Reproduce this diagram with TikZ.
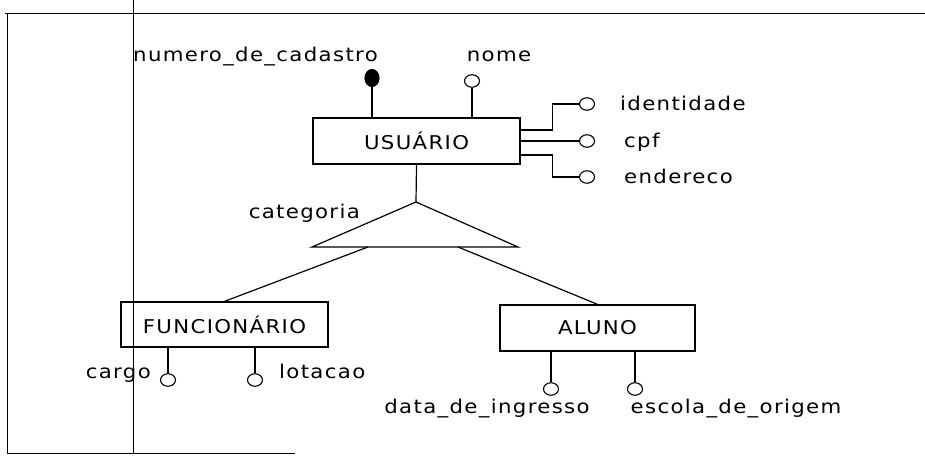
\documentclass[tikz,border=0pt]{standalone}
\usepackage{fontspec}
\setmainfont{DejaVu Sans}[LetterSpace=7,FakeStretch=1.12]
\usetikzlibrary{shapes.geometric}
\begin{document}
\begin{tikzpicture}[x=1pt,y=-1pt,
  frameline/.style={line width=0.9pt},
  ln/.style={line width=1.2pt},
  ent/.style={draw, line width=1.3pt, inner sep=0, font=\fontsize{19}{21}\selectfont},
  attr/.style={draw, ellipse, line width=1.1pt, minimum width=15pt, minimum height=12.5pt, inner sep=0, fill=white},
  keyattr/.style={attr, fill=black, minimum width=14pt, minimum height=17pt},
  lbl/.style={font=\fontsize{19}{21}\selectfont, inner sep=0}
]
\useasboundingbox (0,0) rectangle (925,455);
% frame
\draw[frameline] (5,13) -- (925,13);
\draw[frameline] (7,13) -- (7,453) -- (295,453);
\draw[line width=0.7pt] (133,0) -- (133,453);

% entities
\node[ent, minimum width=207pt, minimum height=46pt] (usuario) at (416.5,141) {USUÁRIO};
\node[ent, minimum width=207pt, minimum height=45pt] (func) at (224.5,324.5) {FUNCIONÁRIO};
\node[ent, minimum width=195pt, minimum height=46pt] (aluno) at (597.5,328) {ALUNO};

% USUARIO attributes
\node[keyattr] (keyC) at (372,78) {};
\node[attr] (nomeC) at (472,81) {};
\node[attr] (idC) at (587,104) {};
\node[attr] (cpfC) at (587,141) {};
\node[attr] (endC) at (587,177) {};
\draw[ln] (keyC.south) -- (keyC.south |- usuario.north);
\draw[ln] (nomeC.south) -- (nomeC.south |- usuario.north);
\draw[ln] ([yshift=11pt]usuario.east) -- ++(32,0) |- (idC.west);
\draw[ln] (usuario.east) -- (cpfC.west);
\draw[ln] ([yshift=-14pt]usuario.east) -- ++(32,0) |- (endC.west);

\node[lbl, anchor=base east] (lkey) at (378,61) {numero\_de\_cadastro};
\node[lbl, anchor=base] (lnome) at (499,61) {nome};
\node[lbl, anchor=base west] (lid) at (620,110) {identidade};
\node[lbl, anchor=base west] (lcpf) at (624,147) {cpf};
\node[lbl, anchor=base west] (lend) at (624,183) {endereco};

% specialization triangle
\coordinate (tA) at (416,202);
\coordinate (tL) at (312,247);
\coordinate (tR) at (518,247);
\draw[ln] (usuario.south) -- (tA);
\draw[ln] (tA) -- (tL) -- (tR) -- cycle;
\node[lbl, anchor=base east] (lcat) at (360,218) {categoria};
\coordinate (b1) at (368,247);
\coordinate (b2) at (458,247);
\draw[ln] (b1) -- (func.north);
\draw[ln] (b2) -- (aluno.north);

% FUNCIONARIO attributes
\node[attr] (cargoC) at (168,380) {};
\node[attr] (lotC) at (255,380) {};
\draw[ln] (cargoC.north) -- (cargoC.north |- func.south);
\draw[ln] (lotC.north) -- (lotC.north |- func.south);
\node[lbl, anchor=base east] (lcargo) at (151,378) {cargo};
\node[lbl, anchor=base west] (llot) at (279,378) {lotacao};

% ALUNO attributes
\node[attr] (dataC) at (551,389) {};
\node[attr] (escC) at (635,389) {};
\draw[ln] (dataC.north) -- (dataC.north |- aluno.south);
\draw[ln] (escC.north) -- (escC.north |- aluno.south);
\node[lbl, anchor=base] (ldata) at (487,413) {data\_de\_ingresso};
\node[lbl, anchor=base] (lesc) at (736,413) {escola\_de\_origem};
\end{tikzpicture}
\end{document}
